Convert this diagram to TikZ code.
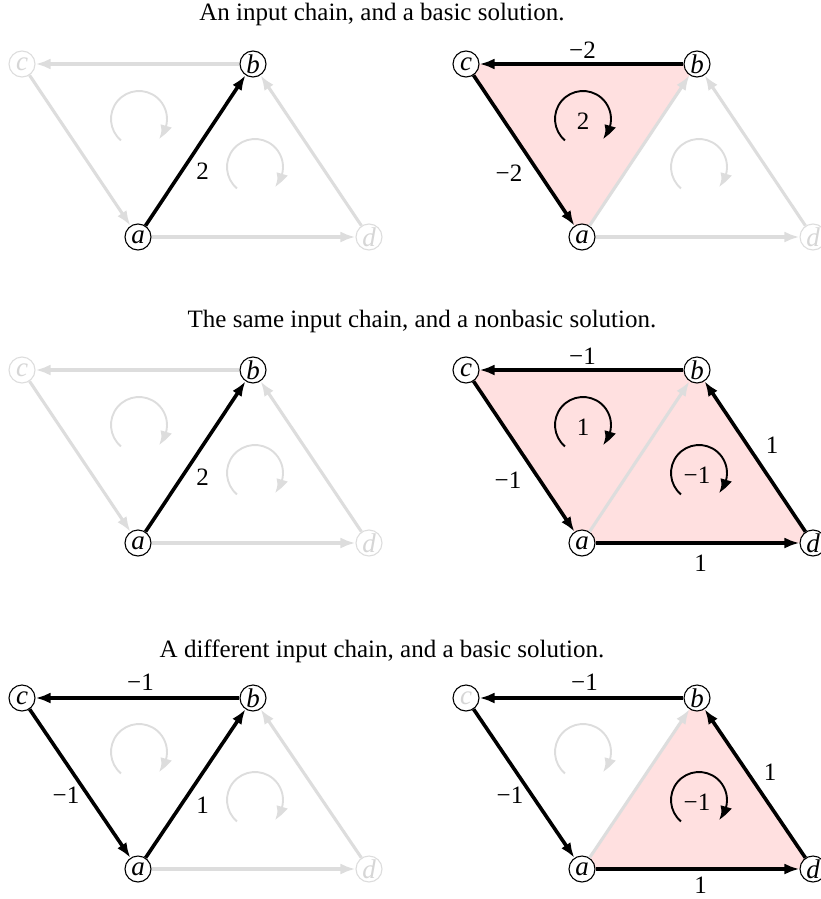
\documentclass[tikz,border=0pt]{standalone}
\usepackage{fontspec}
\setmainfont{Liberation Serif}
\usetikzlibrary{arrows.meta,calc}
\definecolor{lg}{RGB}{221,221,221}
\definecolor{lgt}{RGB}{214,214,214}
\definecolor{pk}{RGB}{255,224,224}
\pgfdeclarelayer{bg}
\pgfsetlayers{bg,main}
\tikzset{
 vtx/.style={circle, draw=black, fill=white, line width=1.1pt, inner sep=0pt, minimum size=26pt, font=\fontsize{27}{30}\selectfont\itshape},
 vtxg/.style={vtx, draw=lg, text=lgt},
 vtxh/.style={vtx, text=lgt},
 eb/.style={draw=black, line width=3.6pt, -{Latex[length=15pt,width=11pt]}},
 eg/.style={draw=lg, line width=3.1pt, -{Latex[length=15pt,width=11pt]}},
 cb/.style={draw=black, line width=1.9pt, -{Latex[length=15pt,width=12pt,bend]}},
 cg/.style={draw=lg, line width=1.9pt, -{Latex[length=15pt,width=12pt,bend]}},
 lbl/.style={font=\fontsize{25}{30}\selectfont, inner sep=0pt},
 ttl/.style={font=\fontsize{25}{30}\selectfont, inner sep=0pt}
}
\usetikzlibrary{bending}
\begin{document}
\begin{tikzpicture}[x=1pt,y=-1pt]
\useasboundingbox (0,0) rectangle (820,899);
% titles
\node[ttl] (t1) at (382,14) {An input chain, and a basic solution.};
\node[ttl] (t2) at (422,321) {The same input chain, and a nonbasic solution.};
\node[ttl] (t3) at (382,651) {A different input chain, and a basic solution.};

% ---------- panel 1 (row 1 left)
\begin{scope}[shift={(22,64)}]
 \node[vtxg] (p1c) at (0,0) {c};
 \node[vtx] (p1b) at (231,0) {b};
 \node[vtx] (p1a) at (116,173) {a};
 \node[vtxg] (p1d) at (347,173) {d};
 \draw[eg] (p1b) -- (p1c);
 \draw[eg] (p1c) -- (p1a);
 \draw[eg] (p1a) -- (p1d);
 \draw[eg] (p1d) -- (p1b);
 \draw[eb] (p1a) -- node[lbl, xshift=7pt, yshift=-21pt] {2} (p1b);
 \draw[cg] (117,55) ++(230:28pt) arc[start angle=230, end angle=-45, radius=28pt];
 \draw[cg] (233,103) ++(230:28pt) arc[start angle=230, end angle=-45, radius=28pt];
\end{scope}

% ---------- panel 2 (row 1 right)
\begin{scope}[shift={(466,64)}]
 \node[vtx] (p2c) at (0,0) {c};
 \node[vtx] (p2b) at (231,0) {b};
 \node[vtx] (p2a) at (116,173) {a};
 \node[vtxg] (p2d) at (347,173) {d};
 \begin{pgfonlayer}{bg}
  \fill[pk] (p2c.center) -- (p2b.center) -- (p2a.center) -- cycle;
 \end{pgfonlayer}
 \draw[eg] (p2a) -- (p2b);
 \draw[eg] (p2a) -- (p2d);
 \draw[eg] (p2d) -- (p2b);
 \draw[eb] (p2b) -- node[lbl, xshift=1pt, yshift=14pt] {−2} (p2c);
 \draw[eb] (p2c) -- node[lbl, xshift=-15pt, yshift=-23pt] {−2} (p2a);
 \draw[cb] (117,55) ++(230:28pt) arc[start angle=230, end angle=-45, radius=28pt];
 \node[lbl] (p2u) at (117,57) {2};
 \draw[cg] (233,103) ++(230:28pt) arc[start angle=230, end angle=-45, radius=28pt];
\end{scope}

% ---------- panel 3 (row 2 left)
\begin{scope}[shift={(22,370)}]
 \node[vtxg] (p3c) at (0,0) {c};
 \node[vtx] (p3b) at (231,0) {b};
 \node[vtx] (p3a) at (116,173) {a};
 \node[vtxg] (p3d) at (347,173) {d};
 \draw[eg] (p3b) -- (p3c);
 \draw[eg] (p3c) -- (p3a);
 \draw[eg] (p3a) -- (p3d);
 \draw[eg] (p3d) -- (p3b);
 \draw[eb] (p3a) -- node[lbl, xshift=7pt, yshift=-21pt] {2} (p3b);
 \draw[cg] (117,55) ++(230:28pt) arc[start angle=230, end angle=-45, radius=28pt];
 \draw[cg] (233,103) ++(230:28pt) arc[start angle=230, end angle=-45, radius=28pt];
\end{scope}

% ---------- panel 4 (row 2 right)
\begin{scope}[shift={(466,370)}]
 \node[vtx] (p4c) at (0,0) {c};
 \node[vtx] (p4b) at (231,0) {b};
 \node[vtx] (p4a) at (116,173) {a};
 \node[vtx] (p4d) at (347,173) {d};
 \begin{pgfonlayer}{bg}
  \fill[pk] (p4c.center) -- (p4b.center) -- (p4d.center) -- (p4a.center) -- cycle;
 \end{pgfonlayer}
 \draw[eg] (p4a) -- (p4b);
 \draw[eb] (p4b) -- node[lbl, xshift=1pt, yshift=14pt] {−1} (p4c);
 \draw[eb] (p4c) -- node[lbl, xshift=-16pt, yshift=-24pt] {−1} (p4a);
 \draw[eb] (p4a) -- node[lbl, xshift=3pt, yshift=-20pt] {1} (p4d);
 \draw[eb] (p4d) -- node[lbl, xshift=17pt, yshift=11pt] {1} (p4b);
 \draw[cb] (117,55) ++(230:28pt) arc[start angle=230, end angle=-45, radius=28pt];
 \node[lbl] (p4u) at (117,57) {1};
 \draw[cb] (233,103) ++(230:28pt) arc[start angle=230, end angle=-45, radius=28pt];
 \node[lbl] (p4l) at (231,105) {−1};
\end{scope}

% ---------- panel 5 (row 3 left)
\begin{scope}[shift={(22,698)}]
 \node[vtx] (p5c) at (0,0) {c};
 \node[vtx] (p5b) at (231,0) {b};
 \node[vtx] (p5a) at (116,171) {a};
 \node[vtxg] (p5d) at (347,171) {d};
 \draw[eg] (p5a) -- (p5d);
 \draw[eg] (p5d) -- (p5b);
 \draw[eb] (p5b) -- node[lbl, xshift=3pt, yshift=16pt] {−1} (p5c);
 \draw[eb] (p5c) -- node[lbl, xshift=-14pt, yshift=-12pt] {−1} (p5a);
 \draw[eb] (p5a) -- node[lbl, xshift=7pt, yshift=-22pt] {1} (p5b);
 \draw[cg] (117,54) ++(230:28pt) arc[start angle=230, end angle=-45, radius=28pt];
 \draw[cg] (233,102) ++(230:28pt) arc[start angle=230, end angle=-45, radius=28pt];
\end{scope}

% ---------- panel 6 (row 3 right)
\begin{scope}[shift={(466,698)}]
 \node[vtxh] (p6c) at (0,0) {c};
 \node[vtx] (p6b) at (231,0) {b};
 \node[vtx] (p6a) at (116,171) {a};
 \node[vtx] (p6d) at (347,171) {d};
 \begin{pgfonlayer}{bg}
  \fill[pk] (p6a.center) -- (p6d.center) -- (p6b.center) -- cycle;
 \end{pgfonlayer}
 \draw[eg] (p6a) -- (p6b);
 \draw[eb] (p6b) -- node[lbl, xshift=3pt, yshift=16pt] {−1} (p6c);
 \draw[eb] (p6c) -- node[lbl, xshift=-14pt, yshift=-12pt] {−1} (p6a);
 \draw[eb] (p6a) -- node[lbl, xshift=3pt, yshift=-16pt] {1} (p6d);
 \draw[eb] (p6d) -- node[lbl, xshift=15pt, yshift=11pt] {1} (p6b);
 \draw[cg] (117,54) ++(230:28pt) arc[start angle=230, end angle=-45, radius=28pt];
 \draw[cb] (233,102) ++(230:28pt) arc[start angle=230, end angle=-45, radius=28pt];
 \node[lbl] (p6l) at (231,104) {−1};
\end{scope}
\end{tikzpicture}
\end{document}
